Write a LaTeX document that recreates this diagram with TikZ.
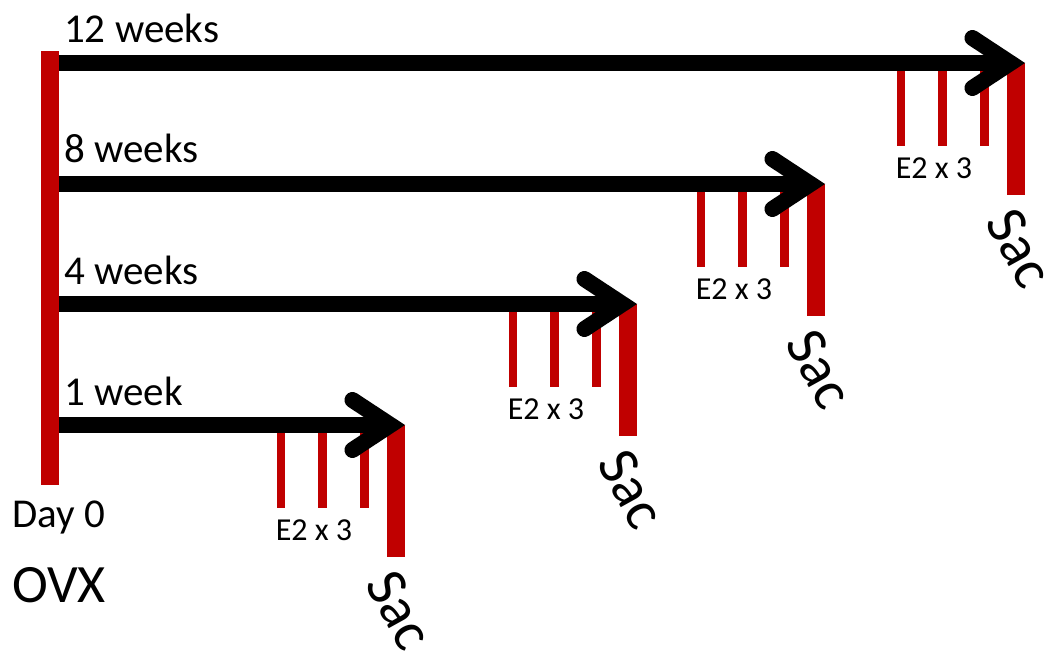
\documentclass[tikz,border=0pt]{standalone}
\usepackage{fontspec}
\setmainfont{Carlito}
\usetikzlibrary{arrows.meta, positioning, calc}
\definecolor{ovxred}{RGB}{192,0,0}

\begin{document}
\begin{tikzpicture}[
    x=1pt, y=-1pt,
    timeline/.style={line width=16pt, -{Straight Barb[length=38pt, width=50pt, line cap=round, line join=miter]}},
    dose/.style={draw=ovxred, line width=8.5pt},
    sacbar/.style={draw=ovxred, line width=17.5pt},
    weeklbl/.style={font=\fontsize{41}{41}\selectfont, anchor=base west, inner sep=0pt},
    doselbl/.style={font=\fontsize{32}{32}\selectfont, inner sep=0pt},
    saclbl/.style={font=\fontsize{58}{58}\selectfont, rotate=-61, inner sep=0pt}
]
\useasboundingbox (0,0) rectangle (1055,655);

% OVX on day 0
\node (ovxbar) [fill=ovxred, minimum width=18pt, minimum height=434pt, inner sep=0pt] at (50,268) {};
\node (day0) [weeklbl] at (12,527) {Day 0};
\node (ovx) [font=\fontsize{54}{54}\selectfont, anchor=base west, inner sep=0pt] at (12,602) {OVX};

% 1 week
\coordinate (t1) at (405,425);
\draw[dose] ($(t1)+(-124,0)$) -- ++(0,83);
\draw[dose] ($(t1)+(-82.5,0)$) -- ++(0,83);
\draw[dose] ($(t1)+(-40.5,0)$) -- ++(0,83);
\draw[sacbar] ($(t1)+(-9,0)$) -- ++(0,132);
\draw[timeline] (ovxbar.east |- t1) -- (t1);
\node (w1) [weeklbl] at (64,405) {1 week};
\node (e1) [doselbl] at ($(t1)+(-91,105)$) {E2 x 3};
\node (sac1) [saclbl] at ($(t1)+(-5,185)$) {Sac};

% 4 weeks
\coordinate (t4) at (637,304);
\draw[dose] ($(t4)+(-124,0)$) -- ++(0,83);
\draw[dose] ($(t4)+(-82.5,0)$) -- ++(0,83);
\draw[dose] ($(t4)+(-40.5,0)$) -- ++(0,83);
\draw[sacbar] ($(t4)+(-9,0)$) -- ++(0,132);
\draw[timeline] (ovxbar.east |- t4) -- (t4);
\node (w4) [weeklbl] at (64,284) {4 weeks};
\node (e4) [doselbl] at ($(t4)+(-91,105)$) {E2 x 3};
\node (sac4) [saclbl] at ($(t4)+(-5,185)$) {Sac};

% 8 weeks
\coordinate (t8) at (825,184);
\draw[dose] ($(t8)+(-124,0)$) -- ++(0,83);
\draw[dose] ($(t8)+(-82.5,0)$) -- ++(0,83);
\draw[dose] ($(t8)+(-40.5,0)$) -- ++(0,83);
\draw[sacbar] ($(t8)+(-9,0)$) -- ++(0,132);
\draw[timeline] (ovxbar.east |- t8) -- (t8);
\node (w8) [weeklbl] at (64,163) {8 weeks};
\node (e8) [doselbl] at ($(t8)+(-91,105)$) {E2 x 3};
\node (sac8) [saclbl] at ($(t8)+(-5,185)$) {Sac};

% 12 weeks
\coordinate (t12) at (1025,63);
\draw[dose] ($(t12)+(-124,0)$) -- ++(0,83);
\draw[dose] ($(t12)+(-82.5,0)$) -- ++(0,83);
\draw[dose] ($(t12)+(-40.5,0)$) -- ++(0,83);
\draw[sacbar] ($(t12)+(-9,0)$) -- ++(0,132);
\draw[timeline] (ovxbar.east |- t12) -- (t12);
\node (w12) [weeklbl] at (64,43) {12 weeks};
\node (e12) [doselbl] at ($(t12)+(-91,105)$) {E2 x 3};
\node (sac12) [saclbl] at ($(t12)+(-5,185)$) {Sac};

\end{tikzpicture}
\end{document}
